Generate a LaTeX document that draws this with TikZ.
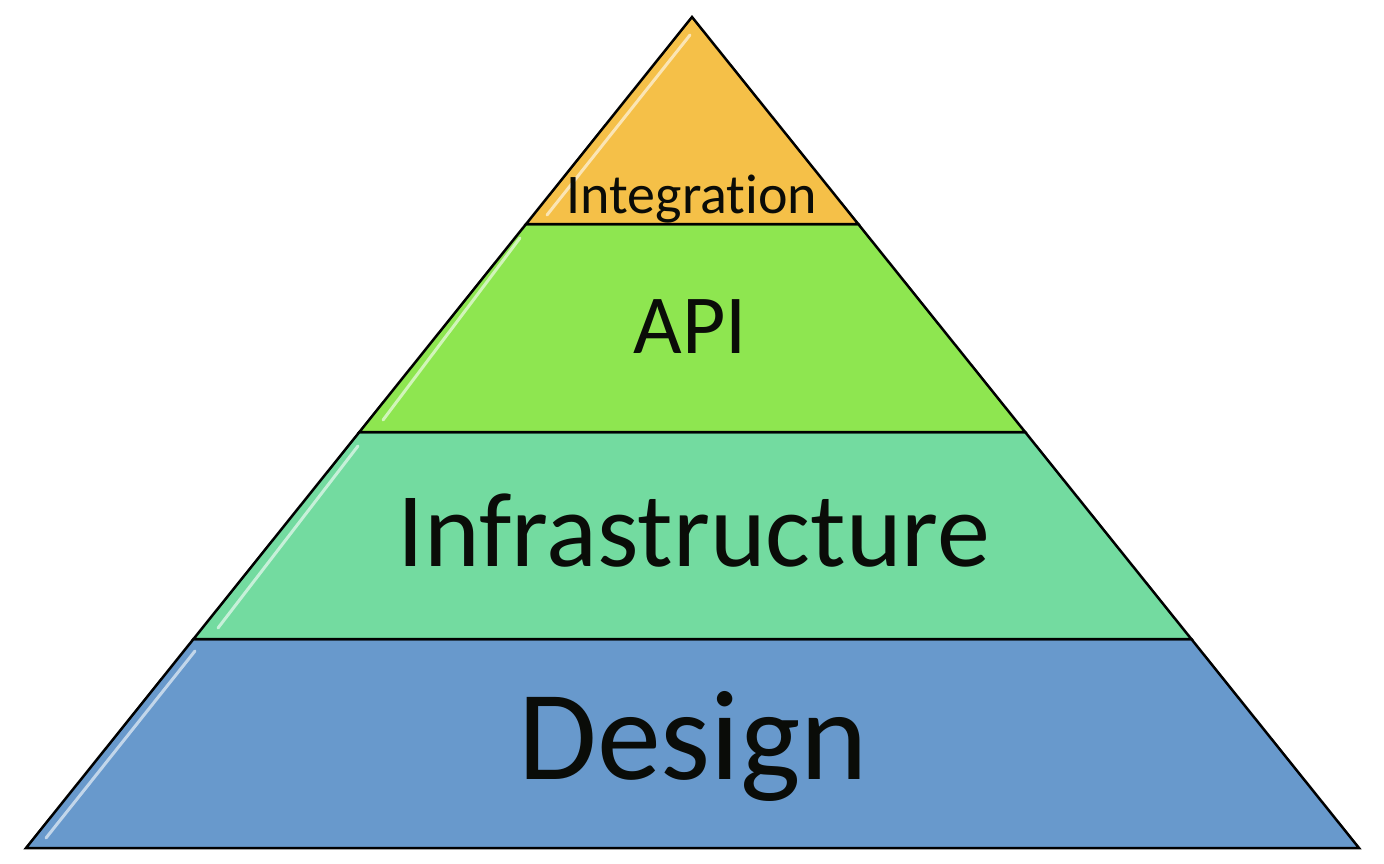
\documentclass[tikz,border=0pt]{standalone}
\usepackage{fontspec}
\setmainfont[Ligatures={NoCommon,NoDiscretionary,NoContextual}]{Carlito}
\definecolor{cOrange}{HTML}{F5C048}
\definecolor{cGreen}{HTML}{8EE650}
\definecolor{cTeal}{HTML}{73DBA0}
\definecolor{cBlue}{HTML}{6899CC}
\definecolor{cText}{HTML}{0A0C08}
\tikzset{
  band/.style={draw=black, line width=2.5pt, line join=miter},
  gloss/.style={draw=white, line width=3pt, opacity=0.6, line cap=round},
  label/.style={anchor=base, inner sep=0pt, text=cText}
}
\begin{document}
\begin{tikzpicture}[x=1pt,y=-1pt]
\useasboundingbox (0,0) rectangle (1384,864);
\fill[white] (0,0) rectangle (1384,864);
% bands
\filldraw[band, fill=cBlue]   (26,848) -- (193.5,639) -- (1191.3,639) -- (1359,848) -- cycle;
\filldraw[band, fill=cTeal]   (193.5,639) -- (359.4,432) -- (1025.1,432) -- (1191.3,639) -- cycle;
\filldraw[band, fill=cGreen]  (359.4,432) -- (526.1,224) -- (858.2,224) -- (1025.1,432) -- cycle;
\filldraw[band, fill=cOrange] (526.1,224) -- (692,17) -- (858.2,224) -- cycle;
% gloss highlights
\draw[gloss] (690,35) -- (547,215);
\draw[gloss] (520,238) -- (383,420);
\draw[gloss] (358,446) -- (218,628);
\draw[gloss] (195,651) -- (46,838);
% labels
\node[label, font=\fontsize{56}{60}\selectfont] (integ) at (692,213) {Integration};
\node[label, font=\fontsize{84}{90}\selectfont] (api) at (690,353) {API};
\node[label, font=\fontsize{106}{110}\selectfont] (infra) at (694,566) {Infrastructure};
\node[label, font=\fontsize{128}{132}\selectfont] (design) at (693,779) {Design};
\end{tikzpicture}
\end{document}
